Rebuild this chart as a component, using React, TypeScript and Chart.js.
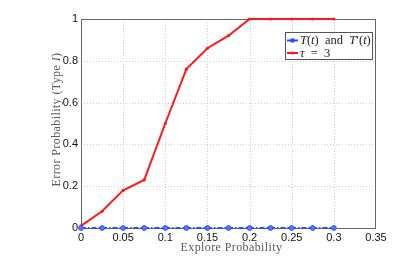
import React, { useEffect, useRef } from "react";
import { Chart, registerables } from "chart.js";
Chart.register(...registerables);

const exploreProb = [0, 0.025, 0.05, 0.075, 0.1, 0.125, 0.15, 0.175, 0.2, 0.225, 0.25, 0.275, 0.3];
const tauThree = [0.01, 0.08, 0.18, 0.23, 0.5, 0.76, 0.86, 0.92, 1, 1, 1, 1, 1];
const tT = [0, 0, 0, 0, 0, 0, 0, 0, 0, 0, 0, 0, 0];
const xTicks = ["0", "0.05", "0.1", "0.15", "0.2", "0.25", "0.3", "0.35"];
const yTicks = ["0", "0.2", "0.4", "0.6", "0.8", "1"];

const RED = "#ff1a1a";
const BLUE = "#2a4dff";

function setFont(ctx: any, it: boolean, size: number, ls: number) {
  ctx.font = `${it ? "italic " : ""}${size}px 'Liberation Serif', serif`;
  ctx.letterSpacing = `${ls}px`;
}
function drawRich(ctx: any, parts: [string, boolean][], x: number, y: number, size: number, ls = 0) {
  let cx = x;
  for (const [t, it] of parts) {
    setFont(ctx, it, size, ls);
    ctx.fillText(t, cx, y);
    cx += ctx.measureText(t).width;
  }
  return cx - x;
}
function measureRich(ctx: any, parts: [string, boolean][], size: number, ls = 0) {
  let w = 0;
  for (const [t, it] of parts) {
    setFont(ctx, it, size, ls);
    w += ctx.measureText(t).width;
  }
  return w;
}

const decor = {
  id: "decor",
  beforeDatasetsDraw(chart: any) {
    const { ctx, chartArea: a, scales } = chart;
    ctx.save();
    ctx.strokeStyle = "#cfcfcf";
    ctx.lineWidth = 1;
    ctx.setLineDash([1, 2]);
    for (const t of xTicks) {
      const v = parseFloat(t);
      if (v === 0 || v === 0.35) continue;
      const x = Math.round(scales.x.getPixelForValue(v)) + 0.5;
      ctx.beginPath();
      ctx.moveTo(x, a.top);
      ctx.lineTo(x, a.bottom);
      ctx.stroke();
    }
    for (const t of yTicks) {
      const v = parseFloat(t);
      if (v === 0 || v === 1) continue;
      const y = Math.round(scales.y.getPixelForValue(v)) + 0.5;
      ctx.beginPath();
      ctx.moveTo(a.left, y);
      ctx.lineTo(a.right, y);
      ctx.stroke();
    }
    ctx.setLineDash([]);
    // frame
    ctx.strokeStyle = "#666";
    ctx.strokeRect(a.left + 0.5, a.top + 0.5, a.right - a.left - 1, a.bottom - a.top);
    ctx.restore();
  },
  afterDraw(chart: any) {
    const { ctx, chartArea: a } = chart;
    ctx.save();
    ctx.fillStyle = "#5a5a5a";
    ctx.textBaseline = "middle";
    ctx.textAlign = "left";
    const xt: [string, boolean][] = [["Explore Probability", false]];
    const w1 = measureRich(ctx, xt, 12, 0.4);
    drawRich(ctx, xt, (a.left + a.right) / 2 - w1 / 2 + 3, 248, 12, 0.4);
    ctx.save();
    ctx.translate(57, (a.top + a.bottom) / 2 - 4);
    ctx.rotate(-Math.PI / 2);
    const yt: [string, boolean][] = [["Error Probability (Type ", false], ["I", true], [")", false]];
    const w2 = measureRich(ctx, yt, 12, 0.4);
    drawRich(ctx, yt, -w2 / 2, 0, 12, 0.4);
    ctx.restore();
    // legend
    const lx = 285, ly = 32, lw = 87, lh = 27;
    ctx.fillStyle = "#fff";
    ctx.fillRect(lx, ly, lw, lh);
    ctx.strokeStyle = "#555";
    ctx.lineWidth = 1;
    ctx.strokeRect(lx + 0.5, ly + 0.5, lw, lh);
    const rows: { color: string; dash: number[]; parts: [string, boolean][]; y: number; r: number }[] = [
      { color: BLUE, dash: [4, 1, 1, 1], parts: [["T", true], ["(", false], ["t", true], [")  and  ", false], ["T", true], ["\u2032(", false], ["t", true], [")", false]], y: 40.5, r: 2.3 },
      { color: RED, dash: [], parts: [["\u03c4", true], ["  =  3", false]], y: 53, r: 1.5 },
    ];
    for (const r of rows) {
      ctx.strokeStyle = r.color;
      ctx.lineWidth = 2;
      ctx.setLineDash(r.dash);
      ctx.beginPath();
      ctx.moveTo(287, r.y);
      ctx.lineTo(298, r.y);
      ctx.stroke();
      ctx.setLineDash([]);
      ctx.fillStyle = r.color;
      ctx.beginPath();
      ctx.arc(292.5, r.y, r.r, 0, Math.PI * 2);
      ctx.fill();
      ctx.fillStyle = "#222";
      drawRich(ctx, r.parts, 300, r.y + 0.5, 12.5, 0);
    }
    ctx.restore();
  },
};

export default function App() {
  const ref = useRef<HTMLCanvasElement>(null);
  useEffect(() => {
    const chart = new Chart(ref.current!, {
      type: "line",
      data: {
        datasets: [
          {
            label: "T(t) and T'(t)",
            data: exploreProb.map((x, i) => ({ x, y: tT[i] })),
            borderColor: BLUE,
            backgroundColor: "#5b78ff",
            borderWidth: 2,
            borderDash: [5, 2, 1.5, 2],
            pointRadius: 2.4,
            pointBorderWidth: 1,
            pointBorderColor: BLUE,
            clip: false as any,
          },
          {
            label: "tau = 3",
            data: exploreProb.map((x, i) => ({ x, y: tauThree[i] })),
            borderColor: RED,
            backgroundColor: RED,
            borderWidth: 2,
            pointRadius: 1.6,
            pointBorderWidth: 0,
            clip: false as any,
          },
        ],
      },
      options: {
        responsive: false,
        animation: false,
        layout: { padding: { left: 0, top: 19, right: 39, bottom: 0 } },
        plugins: { legend: { display: false }, tooltip: { enabled: false } },
        scales: {
          x: {
            type: "linear",
            min: 0,
            max: 0.35,
            afterBuildTicks: (s: any) => {
              s.ticks = xTicks.map((t) => ({ value: parseFloat(t) }));
            },
            afterFit: (s: any) => {
              s.height = 31;
            },
            ticks: {
              callback: (v: any) => xTicks.find((t) => Math.abs(parseFloat(t) - v) < 1e-9) ?? "",
              font: { family: "'Liberation Sans', Arial, sans-serif", size: 11 },
              color: "#111",
              padding: 3,
              maxRotation: 0,
            },
            grid: { display: false, drawTicks: false, tickLength: 0 },
            border: { display: false },
          },
          y: {
            type: "linear",
            min: 0,
            max: 1,
            afterBuildTicks: (s: any) => {
              s.ticks = yTicks.map((t) => ({ value: parseFloat(t) }));
            },
            afterFit: (s: any) => {
              s.width = 81;
            },
            ticks: {
              callback: (v: any) => yTicks.find((t) => Math.abs(parseFloat(t) - v) < 1e-9) ?? "",
              font: { family: "'Liberation Sans', Arial, sans-serif", size: 11 },
              color: "#111",
              padding: 3,
            },
            grid: { display: false, drawTicks: false, tickLength: 0 },
            border: { display: false },
          },
        },
      } as any,
      plugins: [decor],
    });
    return () => chart.destroy();
  }, []);
  return (
    <div style={{ position: "fixed", left: 0, top: 0, width: 415, height: 259, background: "#fff" }}>
      <canvas ref={ref} width={415} height={259} style={{ display: "block" }} />
    </div>
  );
}
